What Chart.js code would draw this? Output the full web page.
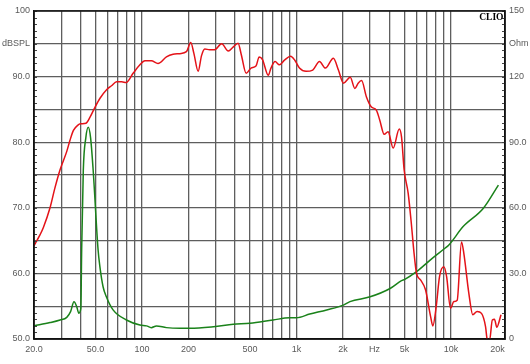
<!DOCTYPE html>
<html lang="en">
  <head>
    <meta charset="UTF-8" />
    <title>SPL / Impedance</title>
    <style>
      body { margin: 0; background: #fff; }
      #wrap { width: 530px; height: 364px; }
    </style>
  </head>
  <body>
    <div id="wrap"><canvas id="clioChart" width="530" height="364"></canvas></div>

    <script src="https://cdn.jsdelivr.net/npm/chart.js"></script>
    <script>
      // SPL response (Hz, dB)
      const splFreq = [20, 21.9, 23, 25.4, 27.3, 29.5, 32.6, 34.2, 36, 38.5, 40, 43.4, 46.3, 49.8, 53.5, 59, 63.5, 68.5, 74, 79, 87.6, 97, 104.5, 115, 127, 144, 159, 176, 194, 207, 217, 231, 243, 255, 274, 295, 328, 362, 389, 419, 440, 473, 508, 547, 574, 603, 657, 684, 727, 776, 837, 917, 976, 1046, 1154, 1275, 1410, 1540, 1735, 1870, 2015, 2230, 2390, 2510, 2640, 2840, 3050, 3290, 3460, 3700, 3920, 4230, 4630, 4790, 4980, 5290, 5550, 5750, 5990, 6360, 6850, 7390, 7640, 8030, 8440, 9000, 9380, 9940, 10450, 10980, 11710, 12120, 13060, 13860, 14780, 15780, 16760, 17170, 17800, 18540, 19150, 19830, 21100];
      const splDb = [64.2, 65.9, 67.0, 70.0, 73.0, 75.8, 78.6, 80.3, 81.8, 82.6, 82.8, 82.9, 83.9, 85.4, 86.7, 88.0, 88.6, 89.2, 89.2, 89.1, 90.5, 91.8, 92.4, 92.4, 92.0, 93.0, 93.4, 93.5, 93.8, 95.2, 93.5, 90.8, 93.2, 94.2, 94.1, 94.1, 95.0, 93.9, 94.5, 95.1, 93.3, 90.5, 91.3, 91.6, 93.0, 92.6, 90.2, 91.3, 92.3, 91.8, 92.5, 93.1, 92.5, 91.3, 90.8, 91.0, 92.3, 91.3, 92.8, 91.0, 89.0, 89.9, 88.2, 89.0, 89.4, 86.9, 85.4, 84.9, 83.4, 81.2, 81.6, 79.1, 82.0, 80.8, 75.8, 72.2, 67.5, 63.5, 60.0, 59.0, 57.5, 53.4, 52.0, 54.9, 59.5, 61.0, 59.5, 54.7, 55.7, 55.9, 64.8, 63.1, 57.0, 53.7, 54.2, 53.9, 51.9, 50.0, 49.8, 52.9, 53.0, 51.8, 53.7];

      // impedance (Hz, Ohm)
      const impFreq = [20, 25.4, 29.5, 32.6, 34.5, 36.3, 37.8, 39, 40.2, 40.7, 41.7, 43.3, 44.9, 46.5, 48.3, 52, 53.4, 56, 58.8, 65, 79.3, 97, 107, 115, 124, 144, 176, 205, 290, 390, 500, 705, 904, 1000, 1220, 1570, 2015, 2220, 3000, 4040, 4790, 5030, 5990, 7570, 9150, 9700, 12000, 16230, 20300];
      const impOhm = [6.0, 7.5, 8.7, 9.9, 12.5, 17.0, 14.8, 11.8, 14.0, 40.7, 77, 92, 96.8, 92, 77.3, 40.7, 33.1, 23.9, 19.3, 13.3, 8.7, 6.4, 6.0, 5.2, 6.0, 5.2, 4.9, 4.9, 5.6, 6.7, 7.2, 8.7, 9.7, 9.7, 11.4, 13.3, 15.5, 17.1, 19.3, 23.1, 26.7, 27.3, 30.8, 36.9, 41.5, 43.0, 51.4, 59.8, 70.4];

      // axes
      const xGridFreqs = [30, 40, 50, 60, 70, 80, 90, 100, 200, 300, 400, 500, 600, 700, 800, 900, 1000, 2000, 3000, 4000, 5000, 6000, 7000, 8000, 9000, 10000];
      const xTickFreqs = [20, 30, 40, 50, 60, 70, 80, 90, 100, 200, 300, 400, 500, 600, 700, 800, 900, 1000, 2000, 3000, 3200, 4000, 5000, 6000, 7000, 8000, 9000, 10000, 20000];
      const xTickText = { 20: "20.0", 50: "50.0", 100: "100", 200: "200", 500: "500", 1000: "1k", 2000: "2k", 3200: "Hz", 5000: "5k", 10000: "10k", 20000: "20k" };
      const leftTickText = { 100: "100", 95: "dBSPL", 90: "90.0", 80: "80.0", 70: "70.0", 60: "60.0", 50: "50.0" };
      const rightTickText = { 150: "150", 135: "Ohm", 120: "120", 90: "90.0", 60: "60.0", 30: "30.0", 0: "0" };

      const tickFont = { family: "'Liberation Sans', Arial, sans-serif", size: 9 };
      const tickColor = "#5a5a5a";
      const gridColor = "#5e5e5e";

      const framePlugin = {
        id: "frame",
        afterDraw(chart) {
          const ctx = chart.ctx;
          const a = chart.chartArea;
          const y = chart.scales.y;
          ctx.save();
          ctx.strokeStyle = "#444";
          ctx.lineWidth = 1;
          ctx.beginPath();
          for (let v = 50; v <= 100; v++) {
            const py = Math.round(y.getPixelForValue(v)) + 0.5;
            ctx.moveTo(a.left, py);
            ctx.lineTo(a.left + 3, py);
            ctx.moveTo(a.right - 3, py);
            ctx.lineTo(a.right, py);
          }
          ctx.stroke();

          ctx.strokeStyle = "#111";
          ctx.lineWidth = 1.5;
          ctx.strokeRect(a.left, a.top, a.right - a.left, a.bottom - a.top);

          ctx.fillStyle = "#000";
          ctx.font = "bold 9.5px 'Liberation Serif', serif";
          ctx.textAlign = "right";
          ctx.textBaseline = "top";
          ctx.fillText("CLIO", a.right - 1.5, a.top + 2);
          ctx.restore();
        },
      };

      new Chart(document.getElementById("clioChart"), {
        type: "line",
        data: {
          datasets: [
            {
              label: "SPL",
              data: splFreq.map((f, i) => ({ x: f, y: splDb[i] })),
              yAxisID: "y",
              borderColor: "rgb(228, 18, 24)",
              borderWidth: 1.5,
              pointRadius: 0,
              fill: false,
              cubicInterpolationMode: "monotone",
            },
            {
              label: "Impedance",
              data: impFreq.map((f, i) => ({ x: f, y: impOhm[i] })),
              yAxisID: "y2",
              borderColor: "rgb(26, 130, 26)",
              borderWidth: 1.5,
              pointRadius: 0,
              fill: false,
              cubicInterpolationMode: "monotone",
            },
          ],
        },
        options: {
          responsive: false,
          animation: false,
          layout: { padding: { top: 11, left: 0, right: 0, bottom: 0 } },
          plugins: { legend: { display: false }, tooltip: { enabled: false } },
          scales: {
            x: {
              type: "logarithmic",
              min: 20,
              max: 22400,
              afterBuildTicks: (scale) => {
                scale.ticks = xTickFreqs.map((v) => ({ value: v }));
              },
              afterFit: (scale) => {
                scale.height = 25;
              },
              ticks: {
                autoSkip: false,
                maxRotation: 0,
                padding: 5,
                font: tickFont,
                color: tickColor,
                callback: (v) => xTickText[v] || "",
              },
              grid: {
                drawTicks: false,
                color: (c) => (c.tick && xGridFreqs.includes(c.tick.value) ? gridColor : "transparent"),
                lineWidth: 1.3,
              },
              border: { display: true, color: "#111", width: 1.5 },
            },
            y: {
              position: "left",
              min: 50,
              max: 100,
              afterBuildTicks: (scale) => {
                const t = [];
                for (let v = 50; v <= 100; v += 5) t.push({ value: v });
                scale.ticks = t;
              },
              afterFit: (scale) => {
                scale.width = 34;
              },
              ticks: {
                padding: 4,
                font: tickFont,
                color: tickColor,
                callback: (v) => leftTickText[v] || "",
              },
              grid: { drawTicks: false, color: gridColor, lineWidth: 1.3 },
              border: { display: true, color: "#111", width: 1.5 },
            },
            y2: {
              position: "right",
              min: 0,
              max: 150,
              afterBuildTicks: (scale) => {
                const t = [];
                for (let v = 0; v <= 150; v += 15) t.push({ value: v });
                scale.ticks = t;
              },
              afterFit: (scale) => {
                scale.width = 25;
              },
              ticks: {
                padding: 4,
                font: tickFont,
                color: tickColor,
                callback: (v) => (rightTickText[v] !== undefined ? rightTickText[v] : ""),
              },
              grid: { drawTicks: false, drawOnChartArea: false },
              border: { display: true, color: "#111", width: 1.5 },
            },
          },
        },
        plugins: [framePlugin],
      });
    </script>
  </body>
</html>
